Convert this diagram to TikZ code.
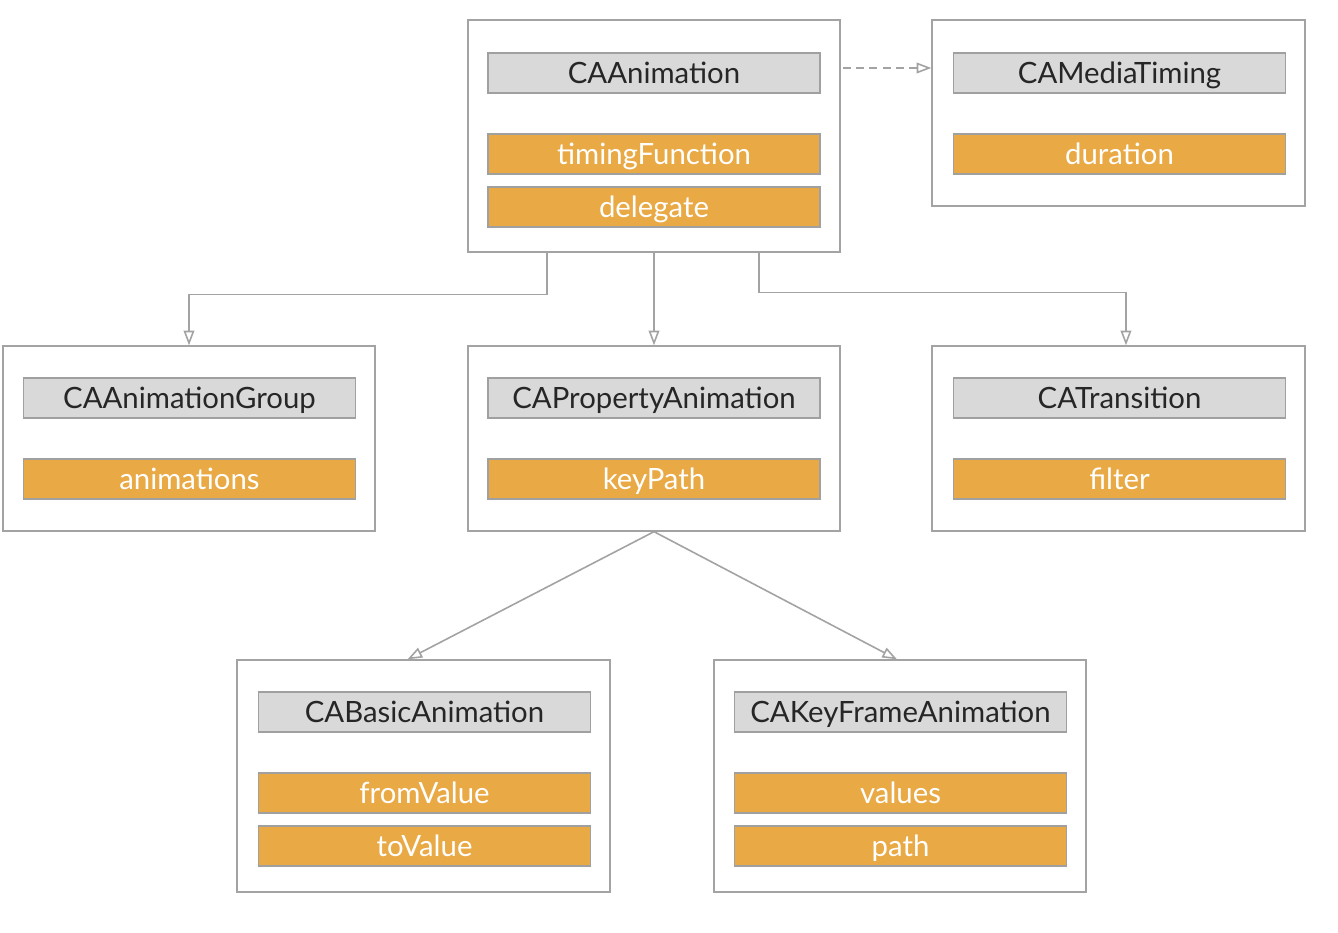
\documentclass[tikz,border=0pt]{standalone}
\usepackage{fontspec}
\setmainfont{Lato}
\usetikzlibrary{arrows.meta}
\definecolor{linegray}{HTML}{A3A3A3}
\definecolor{titlegray}{HTML}{D9D9D9}
\definecolor{boxborder}{HTML}{A0A0A0}
\definecolor{proporange}{HTML}{E9A944}
\tikzset{
  outerbox/.style={draw=linegray, line width=1pt, fill=white, inner sep=0pt},
  innerbox/.style={draw=boxborder, line width=1pt, minimum width=249pt, minimum height=30pt, inner sep=0pt, text height=17.5pt, text depth=2pt, font=\fontsize{22}{26}\selectfont},
  titlebox/.style={innerbox, fill=titlegray, text=black!85},
  propbox/.style={innerbox, fill=proporange, text=white},
  conn/.style={draw=linegray, line width=1.2pt, -{Triangle[open, length=11pt, width=8pt]}},
}
\begin{document}
\begin{tikzpicture}[x=0.75pt,y=-0.75pt]
\useasboundingbox (0,0) rectangle (1338,932);
% outer boxes
\node[outerbox, minimum width=279pt, minimum height=174pt] (anim) at (654,136) {};
\node[outerbox, minimum width=279.75pt, minimum height=139.5pt] (timing) at (1118.5,113) {};
\node[outerbox, minimum width=279pt, minimum height=138.75pt] (group) at (189,438.5) {};
\node[outerbox, minimum width=279pt, minimum height=138.75pt] (prop) at (654,438.5) {};
\node[outerbox, minimum width=279.75pt, minimum height=138.75pt] (trans) at (1118.5,438.5) {};
\node[outerbox, minimum width=279.75pt, minimum height=174pt] (basic) at (423.5,776) {};
\node[outerbox, minimum width=279pt, minimum height=174pt] (keyf) at (900,776) {};
% CAAnimation
\node[titlebox] (animt) at (654,73) {CAAnimation};
\node[propbox] (animp1) at (654,154) {timingFunction};
\node[propbox] (animp2) at (654,207) {delegate};
% CAMediaTiming
\node[titlebox] (timingt) at (1119.5,73) {CAMediaTiming};
\node[propbox] (timingp1) at (1119.5,154) {duration};
% CAAnimationGroup
\node[titlebox] (groupt) at (189.5,398) {CAAnimationGroup};
\node[propbox] (groupp1) at (189.5,479) {animations};
% CAPropertyAnimation
\node[titlebox] (propt) at (654,398) {CAPropertyAnimation};
\node[propbox] (propp1) at (654,479) {keyPath};
% CATransition
\node[titlebox] (transt) at (1119.5,398) {CATransition};
\node[propbox] (transp1) at (1119.5,479) {filter};
% CABasicAnimation
\node[titlebox] (basict) at (424.5,712) {CABasicAnimation};
\node[propbox] (basicp1) at (424.5,793) {fromValue};
\node[propbox] (basicp2) at (424.5,846) {toValue};
% CAKeyFrameAnimation
\node[titlebox] (keyft) at (900.5,712) {CAKeyFrameAnimation};
\node[propbox] (keyfp1) at (900.5,793) {values};
\node[propbox] (keyfp2) at (900.5,846) {path};
% connectors
\draw[conn, dashed, dash pattern=on 6pt off 4pt] ([xshift=1.5pt,yshift=3.75pt]anim.east |- animt) -- ([yshift=3.75pt]timing.west |- animt);
\draw[conn] ([xshift=-80.25pt]anim.south) -- ++(0,42) -| (group.north);
\draw[conn] (anim.south) -- (prop.north);
\draw[conn] ([xshift=78.75pt]anim.south) -- ++(0,40) -| ([xshift=5.6pt]trans.north);
\draw[conn] (prop.south) -- ([xshift=-12pt]basic.north);
\draw[conn] (prop.south) -- ([xshift=-2.25pt]keyf.north);
\end{tikzpicture}
\end{document}
